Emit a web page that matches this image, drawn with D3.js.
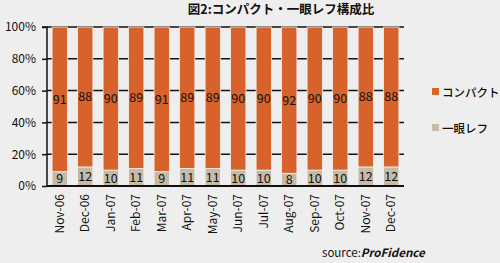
<!DOCTYPE html>
<html>
<head>
<meta charset="utf-8">
<script src="https://cdn.jsdelivr.net/npm/d3@7"></script>
<style>
  body { margin: 0; background: #eeeeee; }
  #chart { width: 500px; height: 263px; }
  text { font-family: "Noto Sans CJK JP", "DejaVu Sans", sans-serif; fill: #111; }
</style>
</head>
<body>
<div id="chart"></div>
<script>
// data
const months = ["Nov-06","Dec-06","Jan-07","Feb-07","Mar-07","Apr-07","May-07","Jun-07","Jul-07","Aug-07","Sep-07","Oct-07","Nov-07","Dec-07"];
const compact = [91, 88, 90, 89, 91, 89, 89, 90, 90, 92, 90, 90, 88, 88];
const slr = [9, 12, 10, 11, 9, 11, 11, 10, 10, 8, 10, 10, 12, 12];
const yTicks = [0, 20, 40, 60, 80, 100];
const seriesNames = ["コンパクト", "一眼レフ"];
const colors = ["#d8622c", "#c5baa6"];

const width = 500, height = 263;
const svg = d3.select("#chart").append("svg")
    .attr("width", width)
    .attr("height", height);

const margin = { top: 27, left: 47, right: 96, bottom: 77 };

const xScale = d3.scaleBand()
    .domain(months)
    .range([margin.left, width - margin.right])
    .paddingInner(0.4)
    .paddingOuter(0.2);
const yScale = d3.scaleLinear()
    .domain([0, 100])
    .range([height - margin.bottom, margin.top]);

// gridlines
svg.append("g")
    .selectAll("line")
    .data(yTicks.slice(1))
    .join("line")
    .attr("x1", margin.left)
    .attr("x2", width - margin.right)
    .attr("y1", d => yScale(d))
    .attr("y2", d => yScale(d))
    .attr("stroke", "#111")
    .attr("stroke-width", 1.5);

// stacked bars
const rows = months.map((m, i) => ({ month: m, slr: slr[i], compact: compact[i] }));
const stack = d3.stack().keys(["slr", "compact"])(rows);
const fills = [colors[1], colors[0]];

svg.append("g")
    .selectAll("g")
    .data(stack)
    .join("g")
    .attr("fill", (d, i) => fills[i])
    .selectAll("rect")
    .data(d => d)
    .join("rect")
    .attr("x", d => xScale(d.data.month))
    .attr("y", d => yScale(d[1]))
    .attr("width", xScale.bandwidth())
    .attr("height", d => yScale(d[0]) - yScale(d[1]))
    .attr("stroke", "#f4f0ea")
    .attr("stroke-width", 0.8);

// value labels
stack.forEach((s, k) => {
    svg.append("g")
        .selectAll("text")
        .data(s)
        .join("text")
        .attr("x", d => xScale(d.data.month) + xScale.bandwidth() / 2)
        .attr("y", d => (yScale(d[0]) + yScale(d[1])) / 2 + 4.5)
        .attr("text-anchor", "middle")
        .attr("font-size", 12.5)
        .text(d => d[1] - d[0]);
});

// axes
const yAxis = svg.append("g")
    .attr("transform", `translate(${margin.left},0)`)
    .call(d3.axisLeft(yScale).tickValues(yTicks).tickFormat(d => d + "%").tickSize(5).tickPadding(6));
yAxis.selectAll("text").attr("font-size", 12).attr("fill", "#111")
    .attr("font-family", "DejaVu Sans, sans-serif");
yAxis.selectAll("line, path").attr("stroke", "#111").attr("stroke-width", 1.5);
yAxis.select(".domain").attr("d", `M-5,${yScale(100)}H0V${yScale(0)}`);

const xAxis = svg.append("g")
    .attr("transform", `translate(0,${height - margin.bottom})`)
    .call(d3.axisBottom(xScale).tickSize(0).tickPadding(6));
xAxis.select(".domain").attr("stroke", "#111").attr("stroke-width", 2)
    .attr("d", `M${margin.left},0H${width - margin.right}`);
xAxis.selectAll("text")
    .attr("font-size", 12)
    .attr("font-family", "DejaVu Sans, sans-serif")
    .attr("fill", "#111")
    .attr("transform", "rotate(-90)")
    .attr("text-anchor", "end")
    .attr("x", -8)
    .attr("y", 0)
    .attr("dy", "0.35em");

// title
svg.append("text")
    .attr("x", 281)
    .attr("y", 14)
    .attr("text-anchor", "middle")
    .attr("font-size", 12.5)
    .attr("font-weight", "bold")
    .attr("fill", "#333")
    .text("図2:コンパクト・一眼レフ構成比");

// legend
const legend = svg.append("g")
    .selectAll("g")
    .data(seriesNames)
    .join("g")
    .attr("transform", (d, i) => `translate(432,${92 + i * 36})`);
legend.append("rect")
    .attr("x", 0).attr("y", -4)
    .attr("width", 7).attr("height", 7)
    .attr("fill", (d, i) => colors[i]);
legend.append("text")
    .attr("x", 10)
    .attr("y", 4.5)
    .attr("font-size", 11.5)
    .attr("font-weight", 500)
    .attr("fill", "#222")
    .text(d => d);

// source
const src = svg.append("text")
    .attr("x", 322)
    .attr("y", 257)
    .attr("font-size", 11.5)
    .attr("font-family", "DejaVu Sans, sans-serif");
src.append("tspan").text("source:");
src.append("tspan").attr("font-weight", "bold").attr("font-style", "italic").text("ProFidence");
</script>
</body>
</html>
